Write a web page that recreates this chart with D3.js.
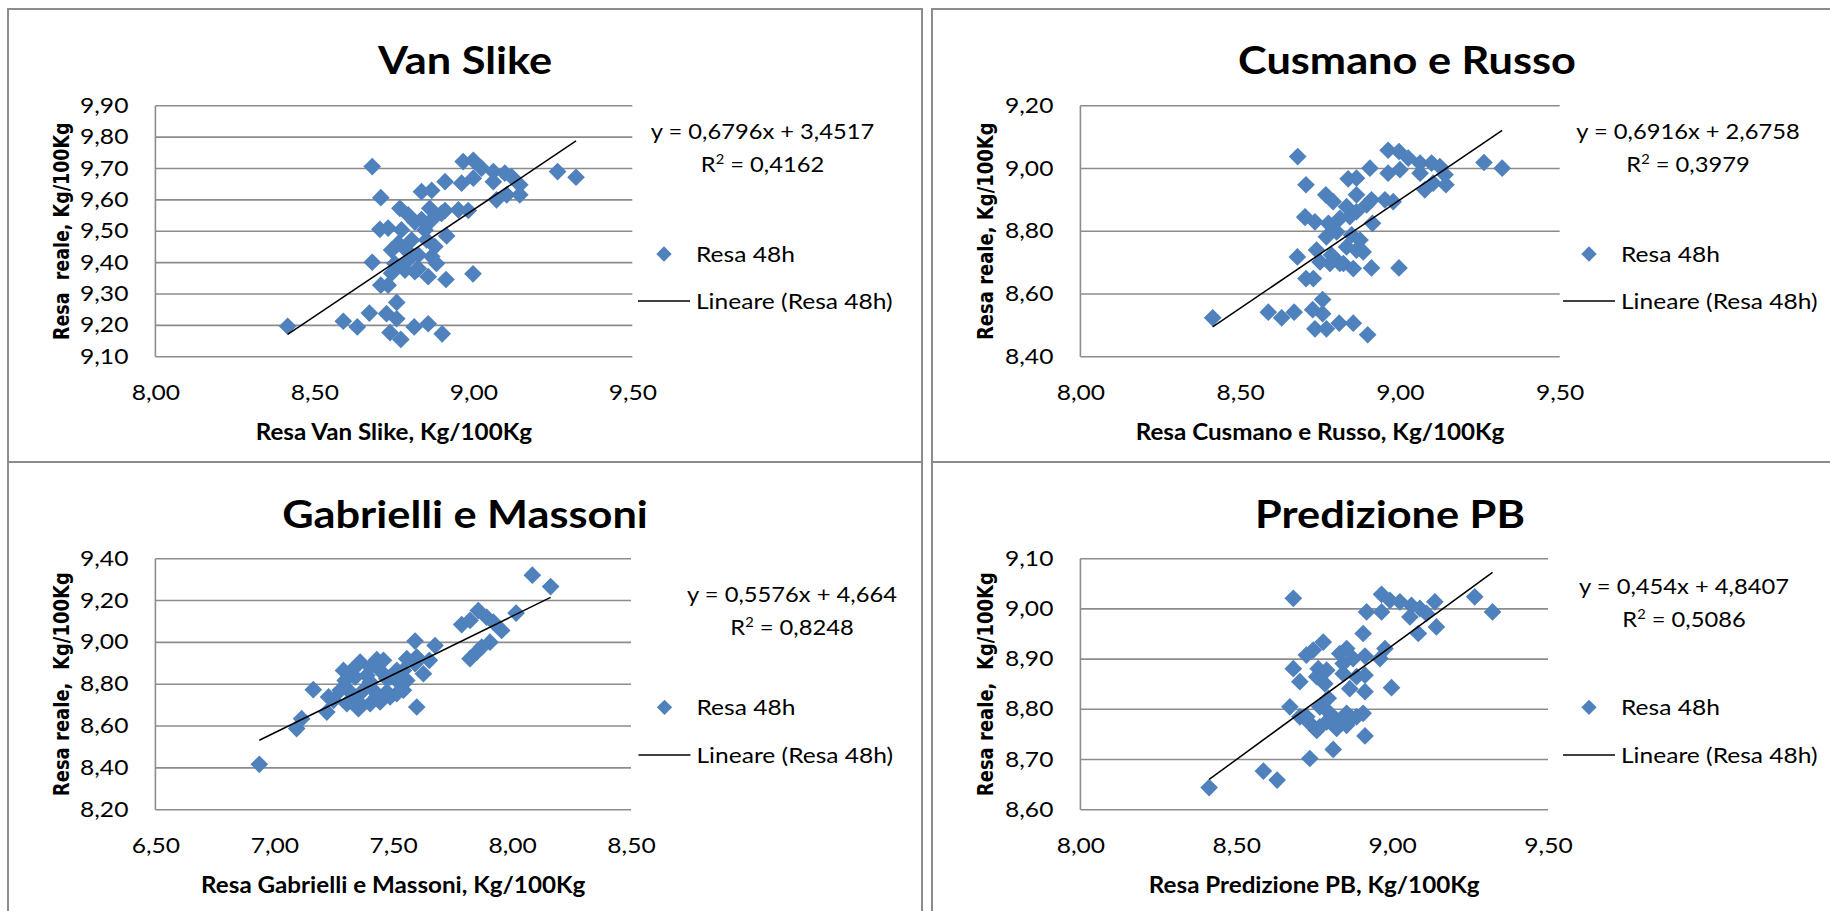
<!DOCTYPE html>
<html>
<head>
<meta charset="utf-8">
<script src="https://cdn.jsdelivr.net/npm/d3@7"></script>
<style>
  html, body { margin: 0; padding: 0; background: #fff; }
  svg { display: block; }
  .calib { font-family: Lato, "Open Sans", sans-serif; }
  .ytitle { font-family: "DejaVu Sans", Verdana, sans-serif; font-weight: bold; }
</style>
</head>
<body>
<svg id="chart" width="1830" height="911"></svg>
<script>
// Measured yields (Kg/100Kg), one pair of arrays per method
const vanSlikeX = [8.416, 8.591, 8.635, 8.673, 8.682, 8.709, 8.706, 8.682, 8.709, 8.732, 8.759, 8.727, 8.759, 8.738, 8.772, 8.814, 8.858, 8.902, 8.914, 8.999, 8.916, 8.837, 8.869, 8.911, 8.963, 9.000, 8.968, 9.000, 9.026, 9.063, 9.099, 9.120, 9.063, 9.146, 9.073, 9.105, 9.146, 9.265, 9.323, 8.769, 8.795, 8.863, 8.911, 8.953, 8.984, 8.837, 8.732, 8.774, 8.848, 8.764, 8.806, 8.879, 8.827, 8.869, 8.884, 8.753, 8.785, 8.816, 8.858, 8.795, 8.743, 8.790, 8.816, 8.743, 8.853, 8.827, 8.869, 8.900];
const vanSlikeY = [9.197, 9.213, 9.195, 9.239, 9.706, 9.607, 9.506, 9.401, 9.328, 9.328, 9.273, 9.237, 9.221, 9.177, 9.155, 9.195, 9.205, 9.173, 9.346, 9.364, 9.485, 9.626, 9.630, 9.658, 9.653, 9.669, 9.722, 9.726, 9.701, 9.690, 9.685, 9.674, 9.658, 9.648, 9.600, 9.616, 9.616, 9.690, 9.672, 9.573, 9.552, 9.573, 9.566, 9.568, 9.566, 9.537, 9.510, 9.504, 9.504, 9.461, 9.472, 9.451, 9.424, 9.419, 9.397, 9.397, 9.376, 9.371, 9.355, 9.408, 9.366, 9.439, 9.529, 9.440, 9.472, 9.381, 9.536, 9.557];

const cusmanoX = [8.414, 8.588, 8.630, 8.669, 8.680, 8.706, 8.703, 8.679, 8.706, 8.729, 8.758, 8.727, 8.758, 8.734, 8.770, 8.810, 8.854, 8.899, 8.911, 8.997, 8.914, 8.838, 8.864, 8.906, 8.963, 9.000, 8.963, 8.997, 9.026, 9.063, 9.099, 9.125, 9.063, 9.141, 9.078, 9.104, 9.144, 9.263, 9.320, 8.768, 8.791, 8.864, 8.911, 8.953, 8.979, 8.833, 8.703, 8.734, 8.776, 8.843, 8.770, 8.802, 8.875, 8.833, 8.864, 8.885, 8.750, 8.781, 8.812, 8.854, 8.739, 8.786, 8.812, 8.849, 8.823, 8.864, 8.896];
const cusmanoY = [8.524, 8.542, 8.524, 8.542, 9.038, 8.948, 8.844, 8.718, 8.649, 8.649, 8.582, 8.550, 8.537, 8.489, 8.489, 8.507, 8.507, 8.470, 8.683, 8.683, 8.825, 8.967, 8.969, 9.001, 8.985, 8.996, 9.058, 9.054, 9.033, 9.017, 9.017, 9.006, 8.985, 8.980, 8.932, 8.953, 8.948, 9.019, 9.001, 8.916, 8.894, 8.916, 8.900, 8.900, 8.894, 8.878, 8.846, 8.830, 8.825, 8.846, 8.782, 8.798, 8.772, 8.750, 8.740, 8.734, 8.702, 8.697, 8.697, 8.681, 8.740, 8.724, 8.841, 8.788, 8.697, 8.862, 8.884];

const gabrielliX = [6.937, 8.085, 8.162, 8.017, 7.858, 7.893, 7.788, 7.823, 7.921, 7.956, 7.907, 7.872, 7.851, 7.823, 7.592, 7.676, 7.652, 7.557, 7.592, 7.599, 7.361, 7.431, 7.445, 7.298, 7.340, 7.389, 7.473, 7.515, 7.164, 7.228, 7.221, 7.305, 7.354, 7.403, 7.445, 7.487, 7.543, 7.557, 7.375, 7.319, 7.115, 7.094, 7.277, 7.417, 7.473, 7.515, 7.403, 7.326, 7.627, 7.249, 7.459, 7.291, 7.403, 7.487, 7.543, 7.347, 7.431, 7.515, 7.599];
const gabrielliY = [8.417, 9.321, 9.267, 9.140, 9.152, 9.120, 9.085, 9.105, 9.097, 9.057, 9.001, 8.977, 8.953, 8.922, 9.006, 8.985, 8.914, 8.922, 8.898, 8.691, 8.906, 8.917, 8.866, 8.818, 8.834, 8.842, 8.826, 8.818, 8.774, 8.739, 8.667, 8.707, 8.683, 8.707, 8.715, 8.739, 8.771, 8.818, 8.771, 8.763, 8.635, 8.588, 8.771, 8.771, 8.763, 8.866, 8.810, 8.866, 8.850, 8.723, 8.914, 8.866, 8.882, 8.834, 8.866, 8.723, 8.739, 8.755, 8.930];

const predizioneX = [8.413, 8.587, 8.631, 8.683, 8.736, 8.811, 8.672, 8.683, 8.704, 8.725, 8.747, 8.779, 8.763, 8.790, 8.784, 8.704, 8.736, 8.758, 8.790, 8.822, 8.854, 8.886, 8.907, 8.768, 8.795, 8.832, 8.854, 8.875, 8.913, 8.843, 8.886, 8.864, 8.913, 8.913, 8.998, 8.913, 8.907, 8.961, 8.977, 8.918, 8.966, 8.966, 8.993, 9.025, 9.062, 9.089, 9.057, 9.137, 9.110, 9.142, 9.084, 9.265, 9.322, 8.854, 8.800, 8.822, 8.726, 8.811, 8.870, 8.768, 8.843, 8.758];
const predizioneY = [8.644, 8.677, 8.659, 9.021, 8.702, 8.720, 8.805, 8.881, 8.855, 8.908, 8.918, 8.934, 8.881, 8.878, 8.851, 8.785, 8.772, 8.758, 8.775, 8.778, 8.768, 8.785, 8.792, 8.805, 8.822, 8.911, 8.921, 8.901, 8.906, 8.871, 8.865, 8.841, 8.835, 8.868, 8.843, 8.747, 8.951, 8.901, 8.921, 8.994, 8.994, 9.029, 9.017, 9.014, 9.007, 9.001, 8.984, 9.014, 8.991, 8.964, 8.951, 9.024, 8.994, 8.792, 8.792, 8.762, 8.785, 8.782, 8.782, 8.765, 8.891, 8.865];

// Linear trend coefficients [slope, intercept] and R²
const vanSlikeFit   = [0.6796, 3.4517, 0.4162];
const cusmanoFit    = [0.6916, 2.6758, 0.3979];
const gabrielliFit  = [0.5576, 4.664, 0.8248];
const predizioneFit = [0.454, 4.8407, 0.5086];

// Axis ticks
const xTicksA = [8.00, 8.50, 9.00, 9.50];
const xTicksG = [6.50, 7.00, 7.50, 8.00, 8.50];
const yTicksVS = [9.10, 9.20, 9.30, 9.40, 9.50, 9.60, 9.70, 9.80, 9.90];
const yTicksCR = [8.40, 8.60, 8.80, 9.00, 9.20];
const yTicksGM = [8.20, 8.40, 8.60, 8.80, 9.00, 9.20, 9.40];
const yTicksPB = [8.60, 8.70, 8.80, 8.90, 9.00, 9.10];

const titles = ["Van Slike", "Cusmano e Russo", "Gabrielli e Massoni", "Predizione PB"];
const xTitles = ["Resa Van Slike, Kg/100Kg", "Resa Cusmano e Russo, Kg/100Kg", "Resa Gabrielli e Massoni, Kg/100Kg", "Resa Predizione PB, Kg/100Kg"];
const yTitles = ["Resa  reale, Kg/100Kg", "Resa reale, Kg/100Kg", "Resa reale,  Kg/100Kg", "Resa reale,  Kg/100Kg"];
const seriesName = "Resa 48h";
const trendName = "Lineare (Resa 48h)";

const it = d3.formatLocale({decimal: ",", thousands: ".", grouping: [3], currency: ["", " €"]});
const fmt2 = it.format(".2f");
const fmtCoef = v => it.format("")(v);

const BLUE = "#4f81bd";
const GRID = "#8c8c8c";
// the sheet's fonts are set a little wide
const SX_TICK = 1.2, SX_TEXT = 1.17, SX_EQ = 1.13, SX_TITLE = 1.14, SX_AXT = 1.1;

const panels = [
  { x: vanSlikeX, y: vanSlikeY, fit: vanSlikeFit, xt: xTicksA, yt: yTicksVS,
    box: [8, 9, 922, 462], plot: [155.4, 105.7, 632.3, 356.7], titleX: 465, titleY: 74,
    eqX: 762.5, eqY: 138.5, legX: 638, legY: 254, lineY: 301, yTitleX: 62, yTitleSize: 17.5 },
  { x: cusmanoX, y: cusmanoY, fit: cusmanoFit, xt: xTicksA, yt: yTicksCR,
    box: [932, 9, 1840, 462], plot: [1080.4, 105.7, 1559.7, 356.7], titleX: 1407, titleY: 74,
    eqX: 1688, eqY: 138.5, legX: 1563, legY: 254, lineY: 301, yTitleX: 986, yTitleSize: 18 },
  { x: gabrielliX, y: gabrielliY, fit: gabrielliFit, xt: xTicksG, yt: yTicksGM,
    box: [8, 462, 922, 930], plot: [155.4, 558.7, 631, 809.7], titleX: 465, titleY: 528,
    eqX: 792, eqY: 601.5, legX: 638.5, legY: 707.3, lineY: 755, yTitleX: 62, yTitleSize: 18 },
  { x: predizioneX, y: predizioneY, fit: predizioneFit, xt: xTicksA, yt: yTicksPB,
    box: [932, 462, 1840, 930], plot: [1080.4, 558.7, 1548, 809.7], titleX: 1390, titleY: 528,
    eqX: 1684, eqY: 594, legX: 1563, legY: 707.3, lineY: 755, yTitleX: 986, yTitleSize: 18 }
];

const svg = d3.select("#chart");
const diamond = d3.symbol().type(d3.symbolDiamond2);

// text placed at (x, y) and widened horizontally by sx
function label(g, x, y, str, size, sx, opts = {}) {
  const t = g.append("text").attr("class", "calib")
    .attr("transform", `translate(${x},${y}) scale(${sx},1)`)
    .attr("font-size", size)
    .attr("text-anchor", opts.anchor || "start")
    .attr("font-weight", opts.bold ? "bold" : null)
    .attr("fill", "#000");
  if (str !== null) t.text(str);
  return t;
}

function widenTicks(sel, sx) {
  sel.selectAll(".tick text").each(function () {
    const s = d3.select(this);
    const x = +s.attr("x") || 0;
    s.attr("x", 0).attr("transform", `translate(${x},0) scale(${sx},1)`)
      .attr("class", "calib").attr("font-family", null).attr("font-size", 20.5).attr("fill", "#000");
  });
}

panels.forEach((p, i) => {
  const g = svg.append("g");
  const [bx0, by0, bx1, by1] = p.box;
  g.append("rect").attr("x", bx0).attr("y", by0).attr("width", bx1 - bx0).attr("height", by1 - by0)
    .attr("fill", "#fff").attr("stroke", GRID).attr("stroke-width", 2);

  const [l, t, r, b] = p.plot;
  const xs = d3.scaleLinear().domain(d3.extent(p.xt)).range([l, r]);
  const ys = d3.scaleLinear().domain(d3.extent(p.yt)).range([b, t]);

  // horizontal gridlines
  g.append("g").selectAll("line").data(p.yt).join("line")
    .attr("x1", l).attr("x2", r).attr("y1", d => ys(d)).attr("y2", d => ys(d))
    .attr("stroke", GRID).attr("stroke-width", 1.6);
  // vertical axis line
  g.append("line").attr("x1", l).attr("x2", l).attr("y1", t).attr("y2", b)
    .attr("stroke", GRID).attr("stroke-width", 1.6);

  // y axis labels
  const ya = g.append("g").attr("transform", `translate(${l},0)`)
    .call(d3.axisLeft(ys).tickValues(p.yt).tickFormat(fmt2).tickSize(0).tickPadding(27));
  ya.select(".domain").remove();
  widenTicks(ya, SX_TICK);

  // x axis labels
  const xa = g.append("g").attr("transform", `translate(0,${b})`)
    .call(d3.axisBottom(xs).tickValues(p.xt).tickFormat(fmt2).tickSize(0).tickPadding(29));
  xa.select(".domain").remove();
  widenTicks(xa, SX_TICK);

  // markers
  const pts = p.x.map((v, k) => [v, p.y[k]]);
  g.append("g").selectAll("path").data(pts).join("path")
    .attr("d", diamond.size(200)())
    .attr("transform", d => `translate(${xs(d[0])},${ys(d[1])})`)
    .attr("fill", BLUE);

  // linear trend line over the data range
  const [m, q, r2] = p.fit;
  const xr = d3.extent(p.x);
  g.append("line")
    .attr("x1", xs(xr[0])).attr("y1", ys(m * xr[0] + q))
    .attr("x2", xs(xr[1])).attr("y2", ys(m * xr[1] + q))
    .attr("stroke", "#000").attr("stroke-width", 1.5);

  // title
  label(g, p.titleX, p.titleY, titles[i], 38, SX_TITLE, { anchor: "middle", bold: true });

  // axis titles
  label(g, (l + r) / 2, b + 83.5, xTitles[i], 22, SX_AXT, { anchor: "middle", bold: true });
  g.append("text").attr("class", "ytitle")
    .attr("transform", `translate(${p.yTitleX},${(t + b) / 2}) rotate(-90) scale(1,1.2)`)
    .attr("text-anchor", "middle").attr("dominant-baseline", "central")
    .attr("font-size", p.yTitleSize).style("white-space", "pre")
    .text(yTitles[i]);

  // trend equation and R²
  label(g, p.eqX, p.eqY, `y = ${fmtCoef(m)}x + ${fmtCoef(q)}`, 21, SX_EQ, { anchor: "middle" });
  const r2t = label(g, p.eqX, p.eqY + 33, null, 21, SX_EQ, { anchor: "middle" });
  r2t.append("tspan").text("R");
  r2t.append("tspan").attr("font-size", 13).attr("dy", -8).text("2");
  r2t.append("tspan").attr("dy", 8).text(` = ${it.format(".4f")(r2)}`);

  // legend
  g.append("path").attr("d", d3.symbol().type(d3.symbolDiamond2).size(150)())
    .attr("transform", `translate(${p.legX + 26},${p.legY})`).attr("fill", BLUE);
  label(g, p.legX + 58, p.legY + 7.5, seriesName, 21, SX_TEXT);
  g.append("line").attr("x1", p.legX).attr("x2", p.legX + 52)
    .attr("y1", p.lineY).attr("y2", p.lineY).attr("stroke", "#000").attr("stroke-width", 1.5);
  label(g, p.legX + 58, p.lineY + 7.5, trendName, 21, SX_TEXT);
});
</script>
</body>
</html>
